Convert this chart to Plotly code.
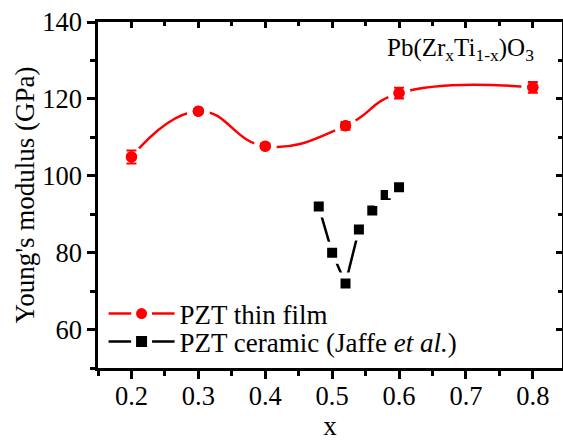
import plotly.graph_objects as go

film_x = [0.2, 0.3, 0.4, 0.52, 0.6, 0.8]
film_y = [104.9, 116.8, 107.7, 113.0, 121.5, 123.0]
film_err = [1.7, 0.6, 0.6, 1.0, 1.4, 1.4]

cer_x = [0.48, 0.50, 0.52, 0.54, 0.56, 0.58, 0.60]
cer_y = [92, 80, 72, 86, 91, 95, 97]

FONT = "Liberation Serif"
RED = "#ff0000"

fig = go.Figure()

fig.add_trace(go.Scatter(
    x=film_x, y=film_y, mode="lines+markers", name="PZT thin film", legend="legend",
    line=dict(color=RED, width=2.5, shape="spline", smoothing=1.3),
    marker=dict(symbol="circle", size=17, color=RED, line=dict(color="white", width=6)),
))
fig.add_trace(go.Scatter(
    x=film_x, y=film_y, mode="markers", showlegend=False,
    marker=dict(symbol="circle", size=11.5, color=RED, line=dict(width=0)),
    error_y=dict(type="data", array=film_err, color=RED, thickness=2, width=5),
))

fig.add_trace(go.Scatter(
    x=cer_x, y=cer_y, mode="lines+markers", legend="legend2",
    name="PZT ceramic (Jaffe <i>et al.</i>)",
    line=dict(color="black", width=2.5),
    marker=dict(symbol="square", size=16, color="black", line=dict(color="white", width=6)),
))

fig.add_trace(go.Scatter(x=[0.5], y=[100], xaxis="x2", yaxis="y2", mode="markers",
                         marker=dict(opacity=0), showlegend=False, hoverinfo="skip"))

axis_common = dict(showgrid=False, zeroline=False, showline=True, linecolor="black",
                   linewidth=2.5, tickcolor="black", tickwidth=2.5, automargin=False,
                   tickfont=dict(family=FONT, size=26.5, color="black"))

leg_common = dict(xanchor="left", yanchor="middle", bgcolor="rgba(0,0,0,0)",
                  font=dict(family=FONT, size=27, color="black"), itemwidth=66)

fig.update_layout(
    width=563, height=441,
    margin=dict(l=98, r=1, t=22, b=73),
    paper_bgcolor="white", plot_bgcolor="white",
    font=dict(family=FONT, size=26, color="black"),
    xaxis=dict(range=[0.15, 0.8436], tick0=0.2, dtick=0.1, ticks="outside", ticklen=8,
               tickformat=".1f", ticklabelstandoff=-6,
               minor=dict(dtick=0.05, tick0=0.15, ticks="outside", ticklen=5, tickwidth=2.5, tickcolor="black"),
               title=dict(text="x", font=dict(family=FONT, size=27), standoff=29),
               **axis_common),
    yaxis=dict(range=[50, 140], tick0=60, dtick=20, ticks="outside", ticklen=8,
               minor=dict(dtick=10, tick0=50, ticks="outside", ticklen=5, tickwidth=2.5, tickcolor="black"),
               title=dict(text="Young's modulus (GPa)", font=dict(family=FONT, size=27), standoff=0),
               **axis_common),
    xaxis2=dict(overlaying="x", side="top", range=[0.15, 0.8436], tick0=0.2, dtick=0.1,
                ticks="inside", ticklen=6, showticklabels=False,
                minor=dict(dtick=0.05, tick0=0.15, ticks="inside", ticklen=4, tickwidth=2.5, tickcolor="black"),
                **axis_common),
    yaxis2=dict(overlaying="y", side="right", range=[50, 140], tick0=60, dtick=20,
                ticks="inside", ticklen=6, showticklabels=False,
                minor=dict(dtick=10, tick0=50, ticks="inside", ticklen=4, tickwidth=2.5, tickcolor="black"),
                **axis_common),
    legend=dict(x=0.012, y=0.156, **leg_common),
    legend2=dict(x=0.012, y=0.075, **leg_common),
    annotations=[dict(x=0.692, y=132.9, xref="x", yref="y", showarrow=False,
                      text="Pb(Zr<sub>x</sub>Ti<sub>1-x</sub>)O<sub>3</sub>",
                      font=dict(family=FONT, size=25, color="black"))],
)

fig.write_html("out.html")
